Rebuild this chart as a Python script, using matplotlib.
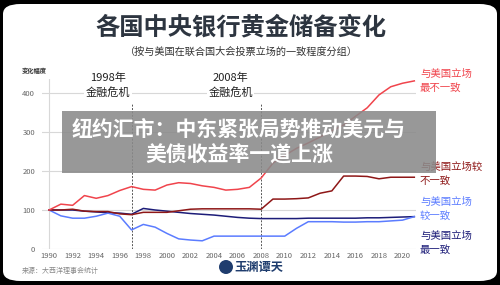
import matplotlib
matplotlib.use("Agg")
import matplotlib.pyplot as plt
from matplotlib.patches import FancyBboxPatch, Rectangle, Ellipse

plt.rcParams['font.family'] = ['Noto Sans CJK SC', 'DejaVu Sans']

# data
years = list(range(1990, 2022))
least_aligned = [100, 115, 112, 137, 130, 137, 150, 160, 153, 151, 164, 170, 168, 162, 158, 151,
                 153, 158, 182, 220, 240, 258, 272, 287, 303, 318, 340, 362, 395, 416, 425, 431]
less_aligned = [100, 100, 102, 97, 96, 96, 90, 88, 94, 94, 94, 98, 102, 103, 103, 103,
                103, 103, 102, 128, 128, 129, 131, 143, 149, 187, 187, 186, 180, 184, 184, 184]
more_aligned = [100, 85, 79, 79, 84, 92, 84, 49, 63, 56, 40, 26, 23, 21, 33, 33,
                33, 33, 33, 33, 33, 53, 70, 70, 70, 69, 69, 70, 70, 72, 74, 83]
most_aligned = [100, 100, 100, 97, 95, 93, 92, 89, 104, 100, 97, 94, 91, 89, 87, 84,
                81, 79, 78, 78, 78, 78, 79, 79, 79, 79, 79, 80, 80, 81, 82, 83]

series_names = ["与美国立场\n最不一致", "与美国立场较\n不一致", "与美国立场\n较一致", "与美国立场\n最一致"]
colors = ["#f0444c", "#8e1717", "#5b7cff", "#1c1c78"]
label_y = [80.5, 174, 208.5, 242.5]  # pixel rows of the right-hand labels

crisis_years = [1997, 2008]
crisis_labels = ["1998年\n金融危机", "2008年\n金融危机"]
crisis_text_x = [1995.0, 2005.4]
y_ticks = [0, 100, 200, 300, 400]
x_ticks = list(range(1990, 2021, 2))

W, H = 500, 285
fig = plt.figure(figsize=(5, 2.85), dpi=100)
fig.patch.set_facecolor("black")

# white rounded card
card = FancyBboxPatch((3 / W, 4 / H), 494 / W, 277 / H,
                      boxstyle="round,pad=0,rounding_size=0.035",
                      transform=fig.transFigure, facecolor="white", edgecolor="none", zorder=-5)
fig.patches.append(card)

ax = fig.add_axes([42 / W, (H - 249) / H, 373.5 / W, 0.5953])
ax.set_facecolor("none")
ax.set_zorder(1)
ax.set_xlim(1989.4, 2021.1)
ax.set_ylim(0, 435)
for s in ax.spines.values():
    s.set_visible(False)

for v in y_ticks:
    ax.axhline(v, color="#d8d8d8" if v else "#cccccc", lw=0.8, zorder=1)
ax.axvline(1990, color="#d8d8d8", lw=0.8, zorder=1)

for cy in crisis_years:
    ax.plot([cy, cy], [0, 374], color="#555555", lw=0.7, ls=(0, (2, 1.5)), zorder=2)

for cx, txt in zip(crisis_text_x, crisis_labels):
    ax.text(cx, 420, txt, ha="center", va="center", fontsize=8, color="#222222",
            linespacing=1.35, zorder=3,
            bbox=dict(facecolor="white", edgecolor="none", pad=1))

# draw navy first, red last
for vals, c in zip([most_aligned, more_aligned, less_aligned, least_aligned],
                   [colors[3], colors[2], colors[1], colors[0]]):
    ax.plot(years, vals, color=c, lw=1.1, solid_joinstyle="round", zorder=4, clip_on=False)

ax.set_yticks(y_ticks)
ax.set_xticks(x_ticks)
ax.tick_params(axis="both", length=0, labelsize=5.5, labelcolor="#666666")
ax.tick_params(axis="y", pad=5)
ax.tick_params(axis="x", pad=2.5)

for name, c, py in zip(series_names, colors, label_y):
    fig.text(420 / W, 1 - py / H, name, color=c, fontsize=7.5, ha="left", va="center",
             linespacing=1.45)

fig.text(241 / W, 1 - 27 / H, "各国中央银行黄金储备变化", ha="center", va="center",
         fontsize=17.5, fontweight="bold", color="#2d3540")
fig.text(241 / W, 1 - 52 / H, "（按与美国在联合国大会投票立场的一致程度分组）", ha="center",
         va="center", fontsize=7.3, color="#333333")
fig.text(22 / W, 1 - 70 / H, "变化幅度", ha="left", va="center", fontsize=4.5,
         fontweight="bold", color="#333333")
fig.text(22 / W, 1 - 271 / H, "来源：大西洋理事会统计", ha="left", va="center",
         fontsize=5, color="#888888")

# logo
fig.patches.append(Ellipse((226 / W, 1 - 267 / H), 14 / W, 14 / H, transform=fig.transFigure,
                           facecolor="#1f3d6e", edgecolor="none", zorder=2))
fig.text(234 / W, 1 - 267.5 / H, "玉渊谭天", ha="left", va="center", fontsize=8.8,
         fontweight="bold", color="#1f3d6e")

# grey headline overlay
fig.patches.append(Rectangle((62 / W, (H - 173) / H), 374 / W, 62 / H, transform=fig.transFigure,
                             facecolor="#8a8a8a", alpha=0.88, edgecolor="none", zorder=10))
fig.text(239 / W, 1 - 142 / H, "纽约汇市：中东紧张局势推动美元与\n美债收益率一道上涨", ha="center",
         va="center", fontsize=15, fontweight="bold", color="white", linespacing=1.3, zorder=11)

fig.savefig("out.png", dpi=100, facecolor=fig.get_facecolor())
